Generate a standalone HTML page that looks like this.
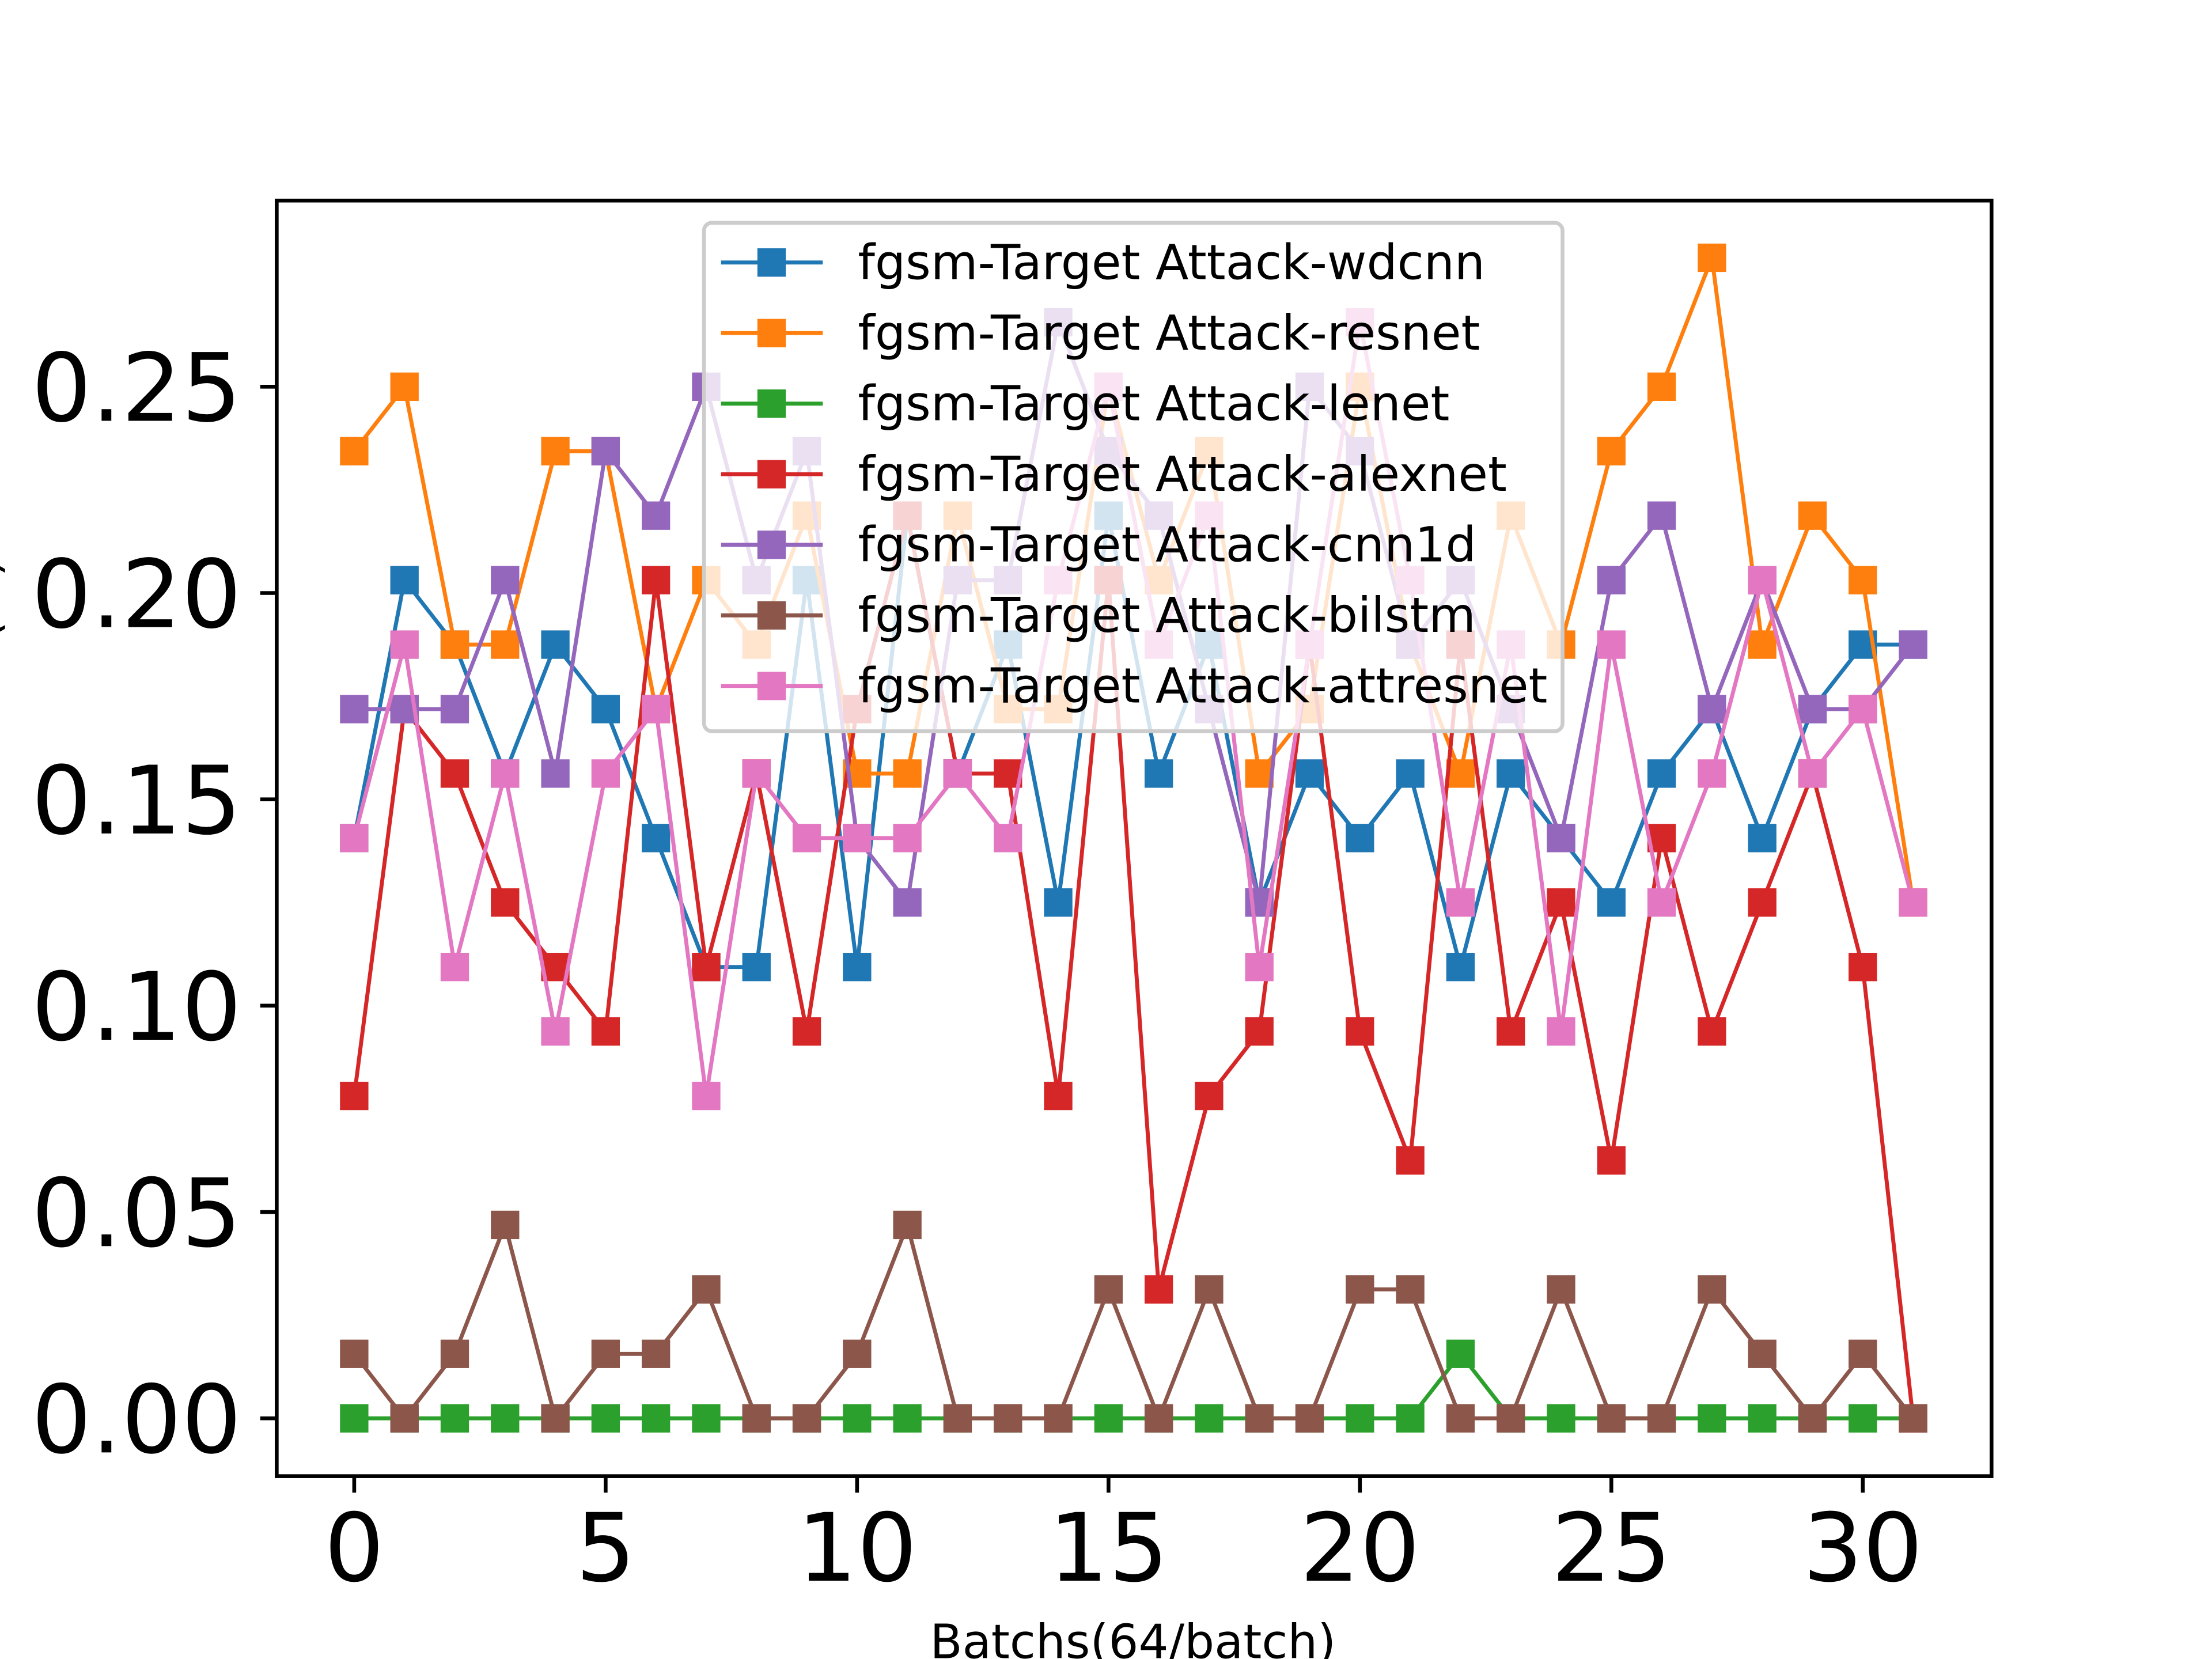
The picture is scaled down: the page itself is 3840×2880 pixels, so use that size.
<!DOCTYPE html>
<html><head><meta charset="utf-8"><style>html,body{margin:0;padding:0;background:#fff}svg{display:block}</style></head>
<body>
<svg id="chart" xmlns="http://www.w3.org/2000/svg" width="3840" height="2880" viewBox="0 0 3840 2880" font-family="'DejaVu Sans','Liberation Sans',sans-serif">
<rect width="3840" height="2880" fill="#fff"/>
<g transform="scale(0.98638)">
<g id="series"></g>
<rect x="487" y="353" width="3018" height="2245" fill="none" stroke="#000" stroke-width="6.7"/>
<g id="axes"></g>
<text x="1994" y="2918" font-size="83" text-anchor="middle">Batchs(64/batch)</text>
<text transform="translate(-2,1475) rotate(-90)" font-size="83" text-anchor="middle">Attack Success Rate(%)</text>
<g id="legend"></g>
</g>
</svg>
<script>
const xTicks=[0,5,10,15,20,25,30];
const yTicks=[0,0.05,0.10,0.15,0.20,0.25];
const yTickLabels=["0.00","0.05","0.10","0.15","0.20","0.25"];
const seriesNames=["fgsm-Target Attack-wdcnn","fgsm-Target Attack-resnet","fgsm-Target Attack-lenet","fgsm-Target Attack-alexnet","fgsm-Target Attack-cnn1d","fgsm-Target Attack-bilstm","fgsm-Target Attack-attresnet"];
const colors=["#1f77b4","#ff7f0e","#2ca02c","#d62728","#9467bd","#8c564b","#e377c2"];
const wdcnn=[9,13,12,10,12,11,9,7,7,13,7,14,10,12,8,14,10,12,8,10,9,10,7,10,9,8,10,11,9,11,12,12].map(v=>v/64);
const resnet=[15,16,12,12,15,15,11,13,12,14,10,10,14,11,11,16,13,15,10,11,16,12,10,14,12,15,16,18,12,14,13,8].map(v=>v/64);
const lenet=[0,0,0,0,0,0,0,0,0,0,0,0,0,0,0,0,0,0,0,0,0,0,1,0,0,0,0,0,0,0,0,0].map(v=>v/64);
const alexnet=[5,11,10,8,7,6,13,7,10,6,11,14,10,10,5,13,2,5,6,12,6,4,12,6,8,4,9,6,8,10,7,0].map(v=>v/64);
const cnn1d=[11,11,11,13,10,15,14,16,13,15,9,8,13,13,17,15,14,11,8,16,15,12,13,11,9,13,14,11,13,11,11,12].map(v=>v/64);
const bilstm=[1,0,1,3,0,1,1,2,0,0,1,3,0,0,0,2,0,2,0,0,2,2,0,0,2,0,0,2,1,0,1,0].map(v=>v/64);
const attresnet=[9,12,7,10,6,10,11,5,10,9,9,9,10,9,13,16,12,14,7,12,17,13,8,12,6,12,8,10,13,10,11,8].map(v=>v/64);
const allSeries=[wdcnn,resnet,lenet,alexnet,cnn1d,bilstm,attresnet];
const NS="http://www.w3.org/2000/svg";
const X=i=>623.4+i*88.5;
const Y=v=>2496.2-v*7262.4;
function mk(t,a,p){const e=document.createElementNS(NS,t);for(const k in a)e.setAttribute(k,a[k]);p.appendChild(e);return e;}
const sg=document.getElementById('series');
allSeries.forEach((d,si)=>{
  const g=mk('g',{},sg);
  
  
  const pl=mk('polyline',{points:d.map((v,i)=>X(i)+','+Y(v)).join(' '),fill:'none',stroke:colors[si],'stroke-width':7,'stroke-linejoin':'round'},g);
  
  
  d.forEach((v,i)=>{
    const r=mk('rect',{x:X(i)-25,y:Y(v)-25,width:50,height:50,fill:colors[si]},g);
    
    
  });
});
const ax=document.getElementById('axes');
xTicks.forEach(t=>{
  const l=mk('line',{x1:X(t),x2:X(t),y1:2598,y2:2627,stroke:'#000','stroke-width':6.7},ax);
  
  
  const tx=mk('text',{x:X(t),y:2782,'font-size':166,'text-anchor':'middle'},ax);
  tx.textContent=t;
  
  
});
yTicks.forEach((t,k)=>{
  const l=mk('line',{x1:458,x2:487,y1:Y(t),y2:Y(t),stroke:'#000','stroke-width':6.7},ax);
  
  
  const tx=mk('text',{x:425,y:Y(t)+60,'font-size':166,'text-anchor':'end'},ax);
  tx.textContent=yTickLabels[k];
  
  
});
const lg=document.getElementById('legend');


mk('rect',{x:1239,y:392,width:1511,height:895,rx:14,fill:'#fff','fill-opacity':0.8,stroke:'#ccc','stroke-width':6.7},lg);
seriesNames.forEach((n,k)=>{
  const y=462+k*124.2;
  const g=mk('g',{},lg);
  
  
  mk('line',{x1:1269,x2:1448,y1:y,y2:y,stroke:colors[k],'stroke-width':7},g);
  mk('rect',{x:1333,y:y-25,width:50,height:50,fill:colors[k]},g);
  const t=mk('text',{x:1510,y:y+29,'font-size':85},g);
  t.textContent=n;
});
</script>
</body></html>
